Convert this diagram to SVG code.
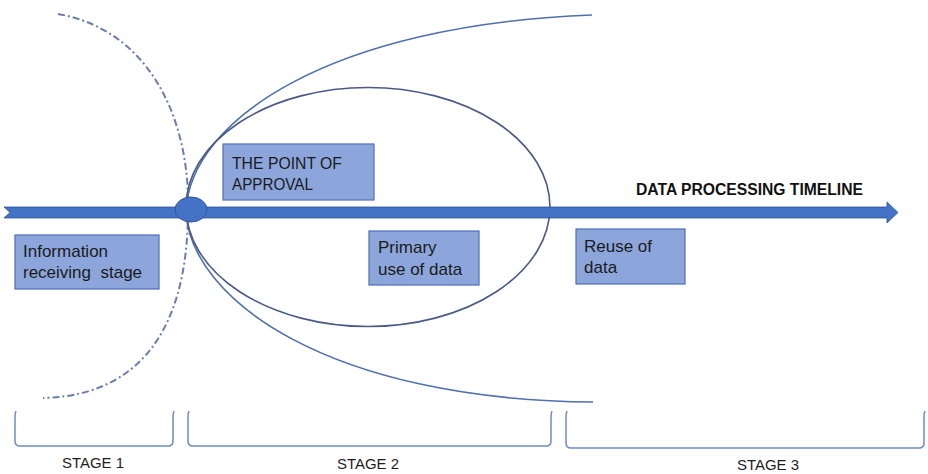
<svg xmlns="http://www.w3.org/2000/svg" width="928" height="474" viewBox="0 0 928 474">
  <style>
    .box { fill: #8CA6DC; stroke: #4F6FB5; stroke-width: 1.2; }
    .lbl { font-family: "Liberation Sans", Arial, sans-serif; font-size: 17px; fill: #1A1A1A; white-space: pre; }
    .stage { font-family: "Liberation Sans", Arial, sans-serif; font-size: 15px; fill: #1E1E1E; }
    .curve { fill: none; stroke: #4F6FB0; stroke-width: 1.6; }
    .bracket { fill: none; stroke: #6E8CC4; stroke-width: 1.5; }
  </style>

  <!-- scope curves and timeline -->
  <g id="connectors">
    <path id="stage1-boundary" d="M58,14 C150,30 190,120 188,210 C188,300 160,395 43,398" fill="none" stroke="#6A7DB0" stroke-width="2" stroke-dasharray="7 3 2 3"/>
    <path id="outer-upper" class="curve" d="M186,211 C190,120 330,25 592,15"/>
    <path id="outer-lower" class="curve" d="M186,211 C190,300 330,400 593,402"/>
    <ellipse id="primary-scope" cx="368" cy="207" rx="182" ry="119.5" fill="none" stroke="#4A5A86" stroke-width="1.6"/>
    <polygon id="timeline" points="4,207 887,207 887,202 898,212.5 887,223 887,218 4,218 10,212.5" fill="#4472C4" stroke="#2F5597" stroke-width="0.8"/>
  </g>

  <g id="approval-point">
    <ellipse cx="191" cy="209.5" rx="16" ry="12.5" fill="#4472C4" stroke="#2F5597" stroke-width="1"/>
  </g>

  <g id="timeline-label">
    <text x="636" y="195" font-family="'Liberation Sans', Arial, sans-serif" font-size="16" font-weight="bold" fill="#111" textLength="227" lengthAdjust="spacingAndGlyphs">DATA PROCESSING TIMELINE</text>
  </g>

  <g id="point-of-approval">
    <rect class="box" x="223" y="144" width="151" height="56"/>
    <text class="lbl" x="232" y="169" textLength="110" lengthAdjust="spacingAndGlyphs">THE POINT OF</text>
    <text class="lbl" x="232" y="190" textLength="81" lengthAdjust="spacingAndGlyphs">APPROVAL</text>
  </g>

  <g id="information-receiving">
    <rect class="box" x="15" y="235" width="144" height="54"/>
    <text class="lbl" x="23" y="257">Information</text>
    <text class="lbl" x="23" y="278">receiving  stage</text>
  </g>

  <g id="primary-use">
    <rect class="box" x="369" y="231" width="110" height="54"/>
    <text class="lbl" x="378" y="253">Primary</text>
    <text class="lbl" x="378" y="275">use of data</text>
  </g>

  <g id="reuse">
    <rect class="box" x="576" y="229" width="109" height="55"/>
    <text class="lbl" x="584" y="252">Reuse of</text>
    <text class="lbl" x="584" y="273">data</text>
  </g>

  <!-- stage brackets -->
  <g id="stage-1">
    <path class="bracket" d="M16,411 Q15,413 15,418 L15,441 Q15,446 20,446 L168,446 Q173,446 173,441 L173,418 Q173,413 174,411"/>
    <text class="stage" x="62" y="468" textLength="62" lengthAdjust="spacingAndGlyphs">STAGE 1</text>
  </g>
  <g id="stage-2">
    <path class="bracket" d="M189,411 Q188,413 188,418 L188,441 Q188,446 193,446 L546,446 Q551,446 551,441 L551,418 Q551,413 552,411"/>
    <text class="stage" x="337" y="469" textLength="62" lengthAdjust="spacingAndGlyphs">STAGE 2</text>
  </g>
  <g id="stage-3">
    <path class="bracket" d="M567,411 Q566,413 566,418 L566,443 Q566,448 571,448 L919,448 Q924,448 924,443 L924,418 Q924,413 925,411"/>
    <text class="stage" x="737" y="470" textLength="62" lengthAdjust="spacingAndGlyphs">STAGE 3</text>
  </g>
</svg>
